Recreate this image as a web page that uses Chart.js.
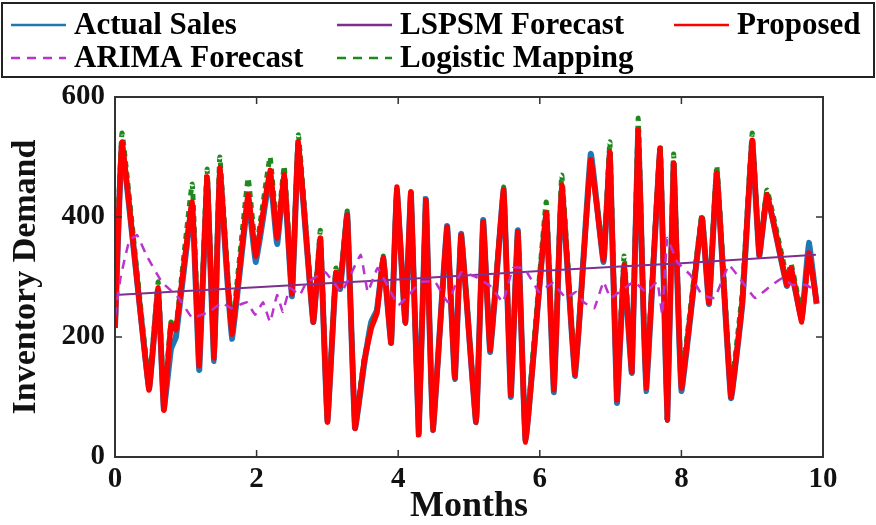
<!DOCTYPE html>
<html>
<head>
<meta charset="utf-8">
<script src="https://cdn.jsdelivr.net/npm/chart.js@4.4.0/dist/chart.umd.min.js"></script>
<style>
  body { margin: 0; background: #fff; }
  #wrap { width: 876px; height: 525px; }
</style>
</head>
<body>
<div id="wrap"><canvas id="chart" width="876" height="525"></canvas></div>
<script>
// month positions shared by actual / proposed / logistic series
var months = [0.00, 0.10, 0.48, 0.61, 0.69, 0.79, 0.86, 1.09, 1.19, 1.30, 1.40, 1.48, 1.65, 1.88, 1.99,
  2.19, 2.29, 2.39, 2.50, 2.59, 2.80, 2.90, 3.00, 3.12, 3.18, 3.28, 3.39, 3.52, 3.62, 3.70, 3.79, 3.90,
  3.98, 4.10, 4.18, 4.29, 4.39, 4.49, 4.69, 4.80, 4.89, 5.10, 5.20, 5.30, 5.49, 5.59, 5.69, 5.80, 6.09,
  6.20, 6.31, 6.50, 6.72, 6.90, 6.99, 7.09, 7.19, 7.30, 7.39, 7.50, 7.70, 7.80, 7.89, 8.00, 8.29, 8.39,
  8.50, 8.70, 8.86, 9.00, 9.10, 9.21, 9.49, 9.55, 9.70, 9.80, 9.91];

var actualSales = [215, 520, 115, 278, 80, 180, 200, 420, 145, 460, 160, 478, 197, 430, 325,
  470, 355, 465, 268, 520, 225, 360, 60, 305, 280, 405, 48, 155, 225, 245, 330, 190,
  445, 225, 440, 40, 430, 45, 385, 130, 372, 58, 395, 175, 445, 100, 378, 28, 405,
  108, 450, 135, 505, 325, 505, 90, 315, 140, 545, 110, 510, 62, 488, 110, 398, 255,
  472, 98, 255, 525, 335, 437, 285, 310, 230, 357, 255];

var proposed = [215, 525, 112, 282, 78, 220, 212, 425, 152, 467, 165, 482, 205, 437, 335,
  478, 365, 470, 272, 525, 225, 365, 58, 308, 285, 403, 48, 160, 215, 240, 332, 190,
  450, 223, 442, 37, 428, 45, 383, 132, 370, 58, 392, 178, 445, 103, 375, 25, 407,
  112, 453, 137, 495, 328, 508, 95, 320, 142, 545, 115, 515, 62, 490, 115, 398, 257,
  473, 100, 258, 528, 337, 437, 287, 315, 225, 340, 257];

var logistic = [240, 540, 125, 292, 95, 225, 215, 455, 165, 480, 175, 500, 215, 465, 345,
  500, 375, 485, 280, 537, 235, 378, 65, 315, 290, 410, 55, 165, 220, 245, 335, 195,
  450, 230, 440, 45, 430, 50, 375, 140, 375, 65, 390, 185, 450, 110, 375, 35, 425,
  120, 470, 150, 495, 340, 525, 105, 335, 150, 565, 125, 520, 70, 505, 130, 405, 270,
  485, 115, 275, 540, 345, 445, 300, 322, 240, 330, 265];

var arimaMonths = [0.00, 0.08, 0.20, 0.31, 0.45, 0.66, 0.90, 1.09, 1.33, 1.51, 1.64, 1.86, 1.98, 2.09,
  2.19, 2.29, 2.37, 2.47, 2.61, 2.70, 2.97, 3.20, 3.47, 3.57, 3.71, 4.00, 4.15, 4.32, 4.52, 4.70,
  4.89, 5.10, 5.30, 5.48, 5.62, 5.78, 5.99, 6.18, 6.37, 6.51, 6.62, 6.77, 6.90, 7.00, 7.33, 7.50,
  7.66, 7.73, 7.80, 7.94, 8.13, 8.29, 8.47, 8.67, 8.86, 9.04, 9.23, 9.42, 9.56, 9.75, 9.90];
var arimaForecast = [235, 300, 360, 370, 335, 292, 265, 232, 242, 257, 248, 258, 237, 258,
  225, 270, 242, 282, 270, 290, 308, 275, 337, 275, 315, 253, 270, 292, 292, 258,
  308, 300, 285, 258, 315, 315, 275, 290, 265, 275, 258, 248, 292, 265, 292, 275,
  292, 237, 365, 325, 303, 270, 265, 320, 292, 265, 282, 298, 287, 287, 278];

var lspsmMonths = [0, 2, 4, 6, 8, 9.9];
var lspsmForecast = [270, 283, 296, 310, 323, 337];

var xTicks = [0, 2, 4, 6, 8, 10];
var yTicks = [0, 200, 400, 600];

var legendLabels = ['Actual Sales', 'LSPSM Forecast', 'Proposed', 'ARIMA Forecast', 'Logistic Mapping'];

function toPoints(xs, ys) {
  var pts = [];
  for (var i = 0; i < xs.length; i++) pts.push({ x: xs[i], y: ys[i] });
  return pts;
}

var serif = '"Liberation Serif", "Times New Roman", serif';

var datasets = [{
  label: legendLabels[0],
  data: toPoints(months, actualSales),
  borderColor: '#1f77b4',
  borderWidth: 6,
  order: 4
}, {
  label: legendLabels[1],
  data: toPoints(lspsmMonths, lspsmForecast),
  borderColor: '#7E2F8E',
  borderWidth: 2,
  order: 1
}, {
  label: legendLabels[2],
  data: toPoints(months, proposed),
  borderColor: '#ff0000',
  borderWidth: 5.5,
  order: 2
}, {
  label: legendLabels[3],
  data: toPoints(arimaMonths, arimaForecast),
  borderColor: '#bb33cc',
  borderWidth: 2.5,
  borderDash: [9, 7],
  order: 0
}, {
  label: legendLabels[4],
  data: toPoints(months, logistic),
  borderColor: '#1e8a1e',
  borderWidth: 5,
  borderDash: [6, 5],
  order: 3
}];

datasets.forEach(function (d) {
  d.pointRadius = 0;
  d.tension = 0.08;
  d.fill = false;
});

// box around the plot + inward ticks (MATLAB style)
var framePlugin = {
  id: 'frame',
  afterDatasetsDraw: function (chart) {
    var ctx = chart.ctx, a = chart.chartArea;
    var xs = chart.scales.x, ys = chart.scales.y;
    ctx.save();
    ctx.strokeStyle = '#333';
    ctx.lineWidth = 2;
    ctx.strokeRect(a.left, a.top, a.right - a.left, a.bottom - a.top);
    ctx.lineWidth = 1.5;
    ctx.beginPath();
    xTicks.forEach(function (t) {
      var px = xs.getPixelForValue(t);
      ctx.moveTo(px, a.bottom); ctx.lineTo(px, a.bottom - 7);
      ctx.moveTo(px, a.top); ctx.lineTo(px, a.top + 7);
    });
    yTicks.forEach(function (t) {
      var py = ys.getPixelForValue(t);
      ctx.moveTo(a.left, py); ctx.lineTo(a.left + 7, py);
      ctx.moveTo(a.right, py); ctx.lineTo(a.right - 7, py);
    });
    ctx.stroke();
    ctx.restore();
  }
};

// legend in a box, 3 columns like the matlab figure
var legendPlugin = {
  id: 'boxLegend',
  afterDraw: function (chart) {
    var ctx = chart.ctx;
    var cols = [11, 337, 674];
    var rows = [25, 58];
    var lineLen = 55;
    ctx.save();
    ctx.strokeStyle = '#222';
    ctx.lineWidth = 2;
    ctx.strokeRect(2, 3, 872, 74);
    ctx.font = 'bold 31px ' + serif;
    ctx.fillStyle = '#000';
    ctx.textBaseline = 'middle';
    chart.data.datasets.forEach(function (ds, i) {
      var cx = cols[i % 3], cy = rows[Math.floor(i / 3)];
      ctx.strokeStyle = ds.borderColor;
      ctx.lineWidth = 2.5;
      ctx.setLineDash(ds.borderDash ? [9, 7] : []);
      ctx.beginPath();
      ctx.moveTo(cx, cy);
      ctx.lineTo(cx + lineLen, cy);
      ctx.stroke();
      ctx.setLineDash([]);
      ctx.fillText(ds.label, cx + lineLen + 8, cy + 1);
    });
    ctx.restore();
  }
};

var ctx = document.getElementById('chart').getContext('2d');
var chart = new Chart(ctx, {
  type: 'line',
  data: { datasets: datasets },
  options: {
    responsive: false,
    animation: false,
    devicePixelRatio: 1,
    layout: { padding: { top: 97, right: 53, left: 0, bottom: 0 } },
    plugins: {
      legend: { display: false },
      tooltip: { enabled: false }
    },
    scales: {
      x: {
        type: 'linear',
        min: 0,
        max: 10,
        afterFit: function (s) { s.height = 68; },
        afterBuildTicks: function (s) { s.ticks = xTicks.map(function (v) { return { value: v }; }); },
        grid: { display: false, drawTicks: false },
        border: { display: false },
        ticks: { color: '#111', padding: 5, font: { family: serif, size: 29, weight: 'bold' } },
        title: {
          display: true,
          text: 'Months',
          color: '#111',
          padding: { top: 0, bottom: 0 },
          font: { family: serif, size: 36, weight: 'bold', lineHeight: 1 }
        }
      },
      y: {
        min: 0,
        max: 600,
        afterFit: function (s) { s.width = 115; },
        afterBuildTicks: function (s) { s.ticks = yTicks.map(function (v) { return { value: v }; }); },
        grid: { display: false, drawTicks: false },
        border: { display: false },
        ticks: { color: '#111', padding: 10, font: { family: serif, size: 29, weight: 'bold' } },
        title: {
          display: true,
          text: 'Inventory Demand',
          color: '#111',
          padding: { top: 6, bottom: 0 },
          font: { family: serif, size: 34, weight: 'bold' }
        }
      }
    }
  },
  plugins: [framePlugin, legendPlugin]
});
</script>
</body>
</html>
